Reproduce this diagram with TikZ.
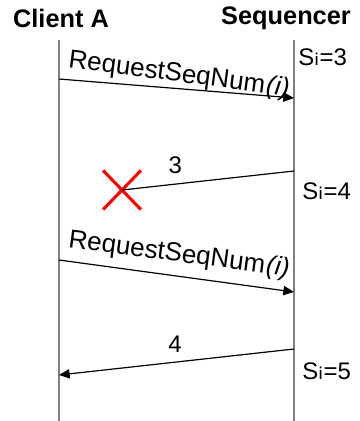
\documentclass[tikz,border=0pt]{standalone}
\usepackage{fontspec}
\setmainfont{Liberation Sans}
\newfontfamily\subfont{DejaVu Sans}
\usetikzlibrary{arrows.meta,shapes.misc}

\begin{document}
\begin{tikzpicture}[x=0.75pt,y=-0.75pt,
    lifeline/.style={gray, line width=1.5pt},
    msg/.style={line width=0.9pt},
    tomsg/.style={msg, -{Triangle[length=8pt,width=7pt]}},
    head/.style={font=\bfseries\fontsize{19}{21}\selectfont},
    numlbl/.style={font=\fontsize{18}{20}\selectfont, inner sep=0pt, above=7pt},
    reqlbl/.style={font=\fontsize{19.5}{21}\selectfont, rotate=-7.5, inner sep=0pt},
    state/.style={font=\fontsize{18}{20}\selectfont, anchor=west, inner sep=0pt},
    lostmark/.style={cross out, draw=red, line width=2.3pt, minimum width=26pt, minimum height=27pt, inner sep=0pt}]
    \useasboundingbox (0,0) rectangle (360,421);
    % participants
    \node[head] (clienta) at (61,18) {Client A};
    \node[head] (seq) at (286,18) {Sequencer};
    \coordinate (atop) at (59,40);  \coordinate (abot) at (59,421);
    \coordinate (stop) at (294,40); \coordinate (sbot) at (294,421);
    \draw[lifeline] (atop) -- (abot);
    \draw[lifeline] (stop) -- (sbot);
    % first request
    \coordinate (a1) at (59,79); \coordinate (s1) at (294,98);
    \draw[tomsg] (a1) -- (s1);
    \node[reqlbl] (req1) at (179,75) {RequestSeqNum\kern1pt\textit{(i)}};
    \node[state] (st3) at (298,57) {S{\subfont\fontsize{22}{22}\selectfont ᵢ}=3};
    % reply that gets lost
    \node[lostmark] (lost) at (122,190) {};
    \coordinate (s2) at (294,171);
    \draw[msg] (s2) -- node[numlbl, pos=0.69] (n3) {3} (lost.center);
    \node[state] (st4) at (302,191) {S{\subfont\fontsize{22}{22}\selectfont ᵢ}=4};
    % second request
    \coordinate (a3) at (59,260); \coordinate (s3) at (294,292);
    \draw[tomsg] (a3) -- (s3);
    \node[reqlbl] (req2) at (179,255) {RequestSeqNum\kern1pt\textit{(i)}};
    % reply
    \coordinate (s4) at (294,349); \coordinate (a4) at (59,375);
    \draw[tomsg] (s4) -- node[numlbl, pos=0.506] (n4) {4} (a4);
    \node[state] (st5) at (302,371) {S{\subfont\fontsize{22}{22}\selectfont ᵢ}=5};
\end{tikzpicture}
\end{document}
